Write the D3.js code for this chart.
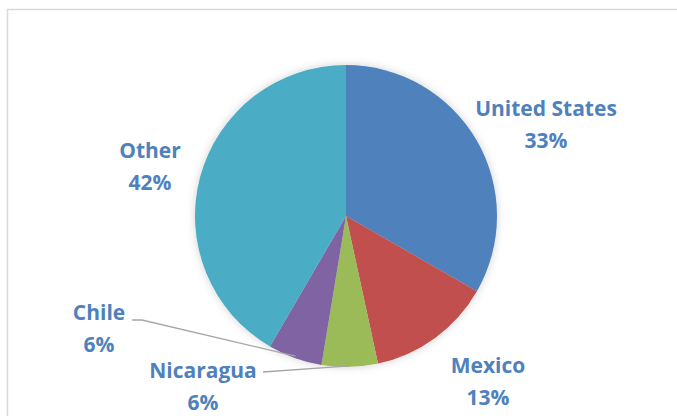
<!DOCTYPE html>
<html>
<head>
<meta charset="utf-8">
<script src="https://cdn.jsdelivr.net/npm/d3@7"></script>
<style>
  body { margin: 0; background: #fff; }
  svg { display: block; }
</style>
</head>
<body>
<div id="chart"></div>
<script>
// Share of total, by country
const categories = ["United States", "Mexico", "Nicaragua", "Chile", "Other"];
const shares = [33.3, 13.3, 6.0, 5.8, 41.6];
const colors = ["#4F81BD", "#C0504D", "#9BBB59", "#8064A2", "#4BACC6"];

// label placement (first-line baseline), relative to pie centre (layout only)
const labelPos = [
  { x: 200, y: -100 },
  { x: 142, y: 157 },
  { x: -143, y: 162 },
  { x: -247, y: 104 },
  { x: -196, y: -58 }
];

const width = 677, height = 416;
const cx = 346, cy = 216, radius = 151;
const lineGap = 32;

const svg = d3.select("#chart").append("svg")
  .attr("width", width)
  .attr("height", height);

// soft shadow around the pie
const defs = svg.append("defs");
defs.append("filter")
  .attr("id", "shadow")
  .attr("x", "-20%").attr("y", "-20%")
  .attr("width", "140%").attr("height", "140%")
  .append("feDropShadow")
  .attr("dx", 0).attr("dy", 0)
  .attr("stdDeviation", 4)
  .attr("flood-color", "#000")
  .attr("flood-opacity", 0.18);

// chart area border
svg.append("rect")
  .attr("x", 7.5).attr("y", 9.5)
  .attr("width", width + 20).attr("height", height + 20)
  .attr("fill", "none")
  .attr("stroke", "#d9d9d9")
  .attr("stroke-width", 1.5);

const g = svg.append("g").attr("transform", `translate(${cx},${cy})`);

const pie = d3.pie().sort(null).value(d => d.value);
const arc = d3.arc().innerRadius(0).outerRadius(radius);

const data = categories.map((c, i) => ({ name: c, value: shares[i], color: colors[i], pos: labelPos[i] }));
const arcs = pie(data);

g.append("g")
  .attr("filter", "url(#shadow)")
  .selectAll("path")
  .data(arcs)
  .enter().append("path")
  .attr("d", arc)
  .attr("fill", d => d.data.color);

// leader lines for small slices
const leaders = [
  { name: "Chile", start: [-214, 104], bend: [-204, 104], r: radius - 2 },
  { name: "Nicaragua", start: [-83, 156], bend: null, r: radius - 1 }
];
leaders.forEach(l => {
  const a = arcs.find(d => d.data.name === l.name);
  const mid = (a.startAngle + a.endAngle) / 2;
  const end = [Math.sin(mid) * l.r, -Math.cos(mid) * l.r];
  const pts = [l.start];
  if (l.bend) pts.push(l.bend);
  pts.push(end);
  g.append("path")
    .attr("d", d3.line()(pts))
    .attr("fill", "none")
    .attr("stroke", "#a6a6a6")
    .attr("stroke-width", 1.3);
});

// labels
const labels = g.selectAll(".lbl")
  .data(arcs)
  .enter().append("text")
  .attr("class", "lbl")
  .attr("text-anchor", "middle")
  .style("font-family", "'Open Sans', Lato, sans-serif")
  .style("font-weight", "bold")
  .style("font-size", "21px")
  .style("fill", "#4F81BD");

labels.append("tspan")
  .attr("x", d => d.data.pos.x)
  .attr("y", d => d.data.pos.y)
  .text(d => d.data.name);

labels.append("tspan")
  .attr("x", d => d.data.pos.x)
  .attr("y", d => d.data.pos.y + lineGap)
  .text(d => Math.round(d.data.value) + "%");
</script>
</body>
</html>
